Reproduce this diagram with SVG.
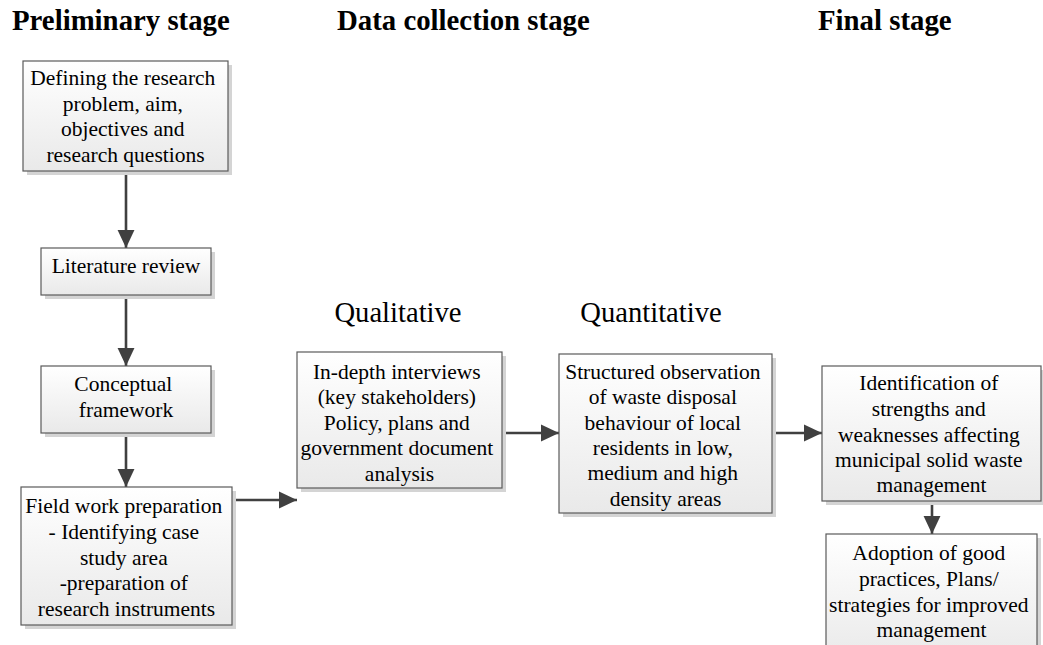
<svg xmlns="http://www.w3.org/2000/svg" width="1043" height="645" viewBox="0 0 1043 645">
  <style>
    .stage { font-family: "Liberation Serif", "Times New Roman", serif; font-size: 28.8px; font-weight: bold; fill: #000; }
    .method { font-family: "Liberation Serif", "Times New Roman", serif; font-size: 28.6px; fill: #000; text-anchor: middle; }
    .box { fill: url(#boxFill); stroke: #5a5a5a; stroke-width: 1.2; }
    .shadow { fill: #d4d4d4; }
    .label { font-family: "Liberation Serif", "Times New Roman", serif; font-size: 21.5px; fill: #000; text-anchor: middle; }
    .link { stroke: #404040; stroke-width: 2.6; fill: none; marker-end: url(#arrow); }
  </style>
  <defs>
    <linearGradient id="boxFill" x1="0" y1="0" x2="0" y2="1">
      <stop offset="0" stop-color="#ffffff"/>
      <stop offset="1" stop-color="#e9e9e9"/>
    </linearGradient>
    <marker id="arrow" markerUnits="userSpaceOnUse" markerWidth="18" markerHeight="18" viewBox="0 0 16 16" refX="16" refY="8" orient="auto">
      <path d="M0,0.5 L16,8 L0,15.5 Z" fill="#404040"/>
    </marker>
  </defs>

  <rect width="1043" height="645" fill="#ffffff"/>

  <!-- stage headings -->
  <g id="headings">
    <text class="stage" x="12" y="30">Preliminary stage</text>
    <text class="stage" x="337" y="30">Data collection stage</text>
    <text class="stage" x="818" y="30">Final stage</text>
  </g>

  <g id="method-labels">
    <text class="method" x="398" y="322">Qualitative</text>
    <text class="method" x="651" y="322">Quantitative</text>
  </g>

  <!-- connectors -->
  <g id="connectors">
    <path class="link" d="M126,171 V248"/>
    <path class="link" d="M126,295 V366"/>
    <path class="link" d="M126,433 V487"/>
    <path class="link" d="M232,500 H297"/>
    <path class="link" d="M502,433 H559"/>
    <path class="link" d="M772,433 H822"/>
    <path class="link" d="M932,501 V534"/>
  </g>

  <g id="problem-definition">
    <rect class="shadow" x="27" y="65" width="205" height="110"/>
    <rect class="box" x="23" y="61" width="205" height="110"/>
    <text class="label">
      <tspan x="125.5" y="85">Defining the research</tspan>
      <tspan x="125.5" y="110.5">problem, aim,</tspan>
      <tspan x="125.5" y="136">objectives and</tspan>
      <tspan x="125.5" y="161.5">research questions</tspan>
    </text>
  </g>

  <g id="literature-review">
    <rect class="shadow" x="45" y="252" width="170" height="47"/>
    <rect class="box" x="41" y="248" width="170" height="47"/>
    <text class="label" x="126" y="272.5">Literature review</text>
  </g>

  <g id="conceptual-framework">
    <rect class="shadow" x="45" y="370" width="170" height="67"/>
    <rect class="box" x="41" y="366" width="170" height="67"/>
    <text class="label">
      <tspan x="126" y="391">Conceptual</tspan>
      <tspan x="126" y="416.5">framework</tspan>
    </text>
  </g>

  <g id="fieldwork-preparation">
    <rect class="shadow" x="25" y="491" width="211" height="138"/>
    <rect class="box" x="21" y="487" width="211" height="138"/>
    <text class="label">
      <tspan x="126.5" y="513">Field work preparation</tspan>
      <tspan x="126.5" y="539">- Identifying case</tspan>
      <tspan x="126.5" y="564.5">study area</tspan>
      <tspan x="126.5" y="590">-preparation of</tspan>
      <tspan x="126.5" y="615.5">research instruments</tspan>
    </text>
  </g>

  <g id="qualitative-methods">
    <rect class="shadow" x="301" y="356" width="205" height="136"/>
    <rect class="box" x="297" y="352" width="205" height="136"/>
    <text class="label">
      <tspan x="399.5" y="378.5">In-depth interviews</tspan>
      <tspan x="399.5" y="404">(key stakeholders)</tspan>
      <tspan x="399.5" y="429.5">Policy, plans and</tspan>
      <tspan x="399.5" y="455">government document</tspan>
      <tspan x="399.5" y="480.5">analysis</tspan>
    </text>
  </g>

  <g id="quantitative-methods">
    <rect class="shadow" x="563" y="358" width="213" height="159"/>
    <rect class="box" x="559" y="354" width="213" height="159"/>
    <text class="label">
      <tspan x="665.5" y="378.5">Structured observation</tspan>
      <tspan x="665.5" y="403.5">of waste disposal</tspan>
      <tspan x="665.5" y="429.5">behaviour of local</tspan>
      <tspan x="665.5" y="454.5">residents in low,</tspan>
      <tspan x="665.5" y="480">medium and high</tspan>
      <tspan x="665.5" y="505.5">density areas</tspan>
    </text>
  </g>

  <g id="strengths-weaknesses">
    <rect class="shadow" x="826" y="370" width="219" height="135"/>
    <rect class="box" x="822" y="366" width="219" height="135"/>
    <text class="label">
      <tspan x="931.5" y="390">Identification of</tspan>
      <tspan x="931.5" y="416">strengths and</tspan>
      <tspan x="931.5" y="441.5">weaknesses affecting</tspan>
      <tspan x="931.5" y="467">municipal solid waste</tspan>
      <tspan x="931.5" y="492">management</tspan>
    </text>
  </g>

  <g id="good-practices">
    <rect class="shadow" x="830" y="538" width="211" height="130"/>
    <rect class="box" x="826" y="534" width="211" height="130"/>
    <text class="label">
      <tspan x="931.5" y="560">Adoption of good</tspan>
      <tspan x="931.5" y="586">practices, Plans/</tspan>
      <tspan x="931.5" y="611.5">strategies for improved</tspan>
      <tspan x="931.5" y="637">management</tspan>
    </text>
  </g>
</svg>
